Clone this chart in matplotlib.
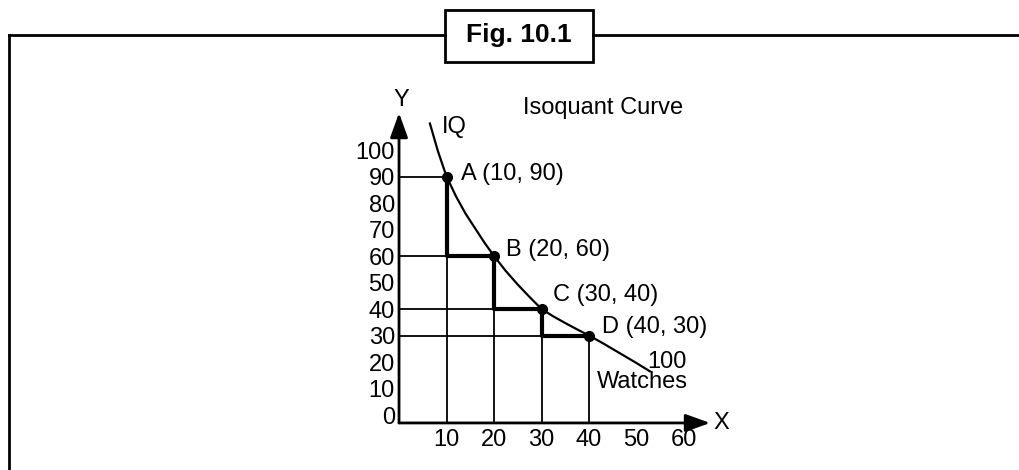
import matplotlib
matplotlib.use('Agg')
import matplotlib.pyplot as plt
from matplotlib.lines import Line2D
from matplotlib.patches import Rectangle

plt.rcParams['font.family'] = ['Liberation Sans', 'DejaVu Sans']

# points on the isoquant (labour, capital)
labels = ['A', 'B', 'C', 'D']
px = [10, 20, 30, 40]
py = [90, 60, 40, 30]

# isoquant curve
curve_x = [6.5, 8.2, 10, 12, 14, 16, 18, 20, 22.5, 25, 27.5, 30,
           32.5, 35, 37.5, 40, 43, 46.5, 50, 52.8]
curve_y = [110, 99.5, 90, 82.5, 76, 70.5, 65, 60, 54.3, 49.2, 44.5, 40,
           37.2, 34.7, 32.3, 30, 27, 23.3, 19.6, 16.5]

xticks = [10, 20, 30, 40, 50, 60]
yticks = [0, 10, 20, 30, 40, 50, 60, 70, 80, 90, 100]

fig = plt.figure(figsize=(10.19, 4.70), dpi=100)
ax = fig.add_axes([0.3776, 0.0719, 0.3496, 0.7499])
ax.set_xlim(-3, 72)
ax.set_ylim(-8, 125)

# axes lines with arrows
arr = dict(arrowstyle='-|>,head_length=0.75,head_width=0.27', lw=2, color='k',
           shrinkA=0, shrinkB=0, mutation_scale=20)
ax.annotate('', xy=(0, 114), xytext=(0, -3), arrowprops=arr)
ax.annotate('', xy=(65.5, -3), xytext=(0, -3), arrowprops=arr)
ax.text(0.4, 119, 'Y', fontsize=17, ha='center', va='center')
ax.text(67.8, -3, 'X', fontsize=17, ha='center', va='center')

# ticks placed on invisible spines
for s in ['top', 'right']:
    ax.spines[s].set_visible(False)
ax.spines['left'].set_position(('data', 0))
ax.spines['bottom'].set_position(('data', -3))
ax.spines['left'].set_color('none')
ax.spines['bottom'].set_color('none')
ax.set_xticks(xticks)
ax.set_yticks(yticks)
ax.tick_params(axis='both', length=0, labelsize=17)
ax.tick_params(axis='x', pad=4)
ax.tick_params(axis='y', pad=3)

# thin guide lines
for x, y in zip(px, py):
    ax.plot([0, x], [y, y], color='k', lw=1.3)
    ax.plot([x, x], [-3, y], color='k', lw=1.3)

# thick staircase
ax.plot(px, py, color='k', lw=3, drawstyle='steps-pre')

# curve and points
ax.plot(curve_x, curve_y, color='k', lw=1.6, solid_joinstyle='round')
ax.plot(px, py, 'o', color='k', markersize=7)

offs = [(3.0, 1.0), (2.5, 2.3), (2.4, 5.3), (2.7, 3.2)]
for lab, x, y, (dx, dy) in zip(labels, px, py, offs):
    ax.text(x + dx, y + dy, '%s (%d, %d)' % (lab, x, y), fontsize=17,
            ha='left', va='center')

ax.text(11.6, 108.7, 'IQ', fontsize=17, ha='center', va='center')
ax.text(56.4, 20, '100', fontsize=17, ha='center', va='center')
ax.text(41.7, 12.5, 'Watches', fontsize=17, ha='left', va='center')
ax.text(26.1, 115.8, 'Isoquant Curve', fontsize=17, ha='left', va='center')

# outer frame with the figure caption box
W, H = 1019.0, 470.0
ly = 1 - 35 / H
fig.add_artist(Line2D([9 / W, 9 / W], [0, ly], color='k', lw=2))
fig.add_artist(Line2D([9 / W, 445 / W], [ly, ly], color='k', lw=2))
fig.add_artist(Line2D([593 / W, 1], [ly, ly], color='k', lw=2))
fig.add_artist(Rectangle((445 / W, 1 - 62 / H), 148 / W, 52 / H,
                         fill=False, edgecolor='k', lw=2))
fig.text(519 / W, 1 - 35 / H, 'Fig. 10.1', fontsize=19, fontweight='bold',
         ha='center', va='center')

plt.savefig('out.png', dpi=100)
